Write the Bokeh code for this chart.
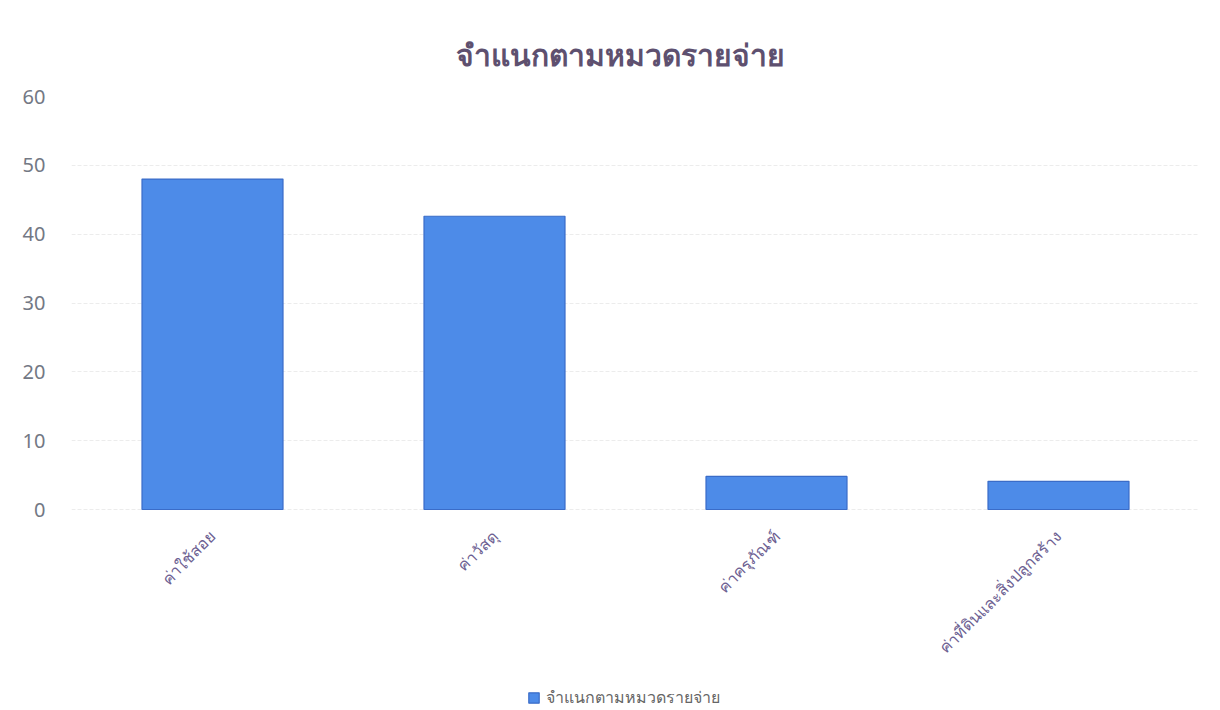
import math
from bokeh.plotting import figure
from bokeh.models import ColumnDataSource, Legend, LegendItem, FactorRange, Range1d
from bokeh.core.properties import value
from bokeh.embed import file_html
from bokeh.resources import INLINE

# data
categories = ["ค่าใช้สอย", "ค่าวัสดุ", "ค่าครุภัณฑ์", "ค่าที่ดินและสิ่งปลูกสร้าง"]
values = [48.0, 42.6, 4.8, 4.1]
series_name = "จำแนกตามหมวดรายจ่าย"
title_text = "จำแนกตามหมวดรายจ่าย"
y_ticks = [0, 10, 20, 30, 40, 50, 60]

FONT = "Noto Sans"

src = ColumnDataSource(dict(cat=categories, val=values, base=[0] * len(categories)))

p = figure(
    x_range=FactorRange(*categories, range_padding=0),
    y_range=Range1d(-29.2, 60),
    width=1212, height=710,
    output_backend="svg", toolbar_location=None,
    x_axis_location=None,
    min_border_left=71, min_border_right=13,
    min_border_top=96, min_border_bottom=0,
)
p.background_fill_color = "white"
p.border_fill_color = "white"
p.outline_line_color = None

p.title.text = title_text
p.title.align = "left"
p.title.offset = 384
p.title.text_font = FONT
p.title.text_font_size = "30px"
p.title.text_font_style = "bold"
p.title.text_color = "#5e506f"
p.title.standoff = 44

r = p.vbar(x="cat", top="val", width=0.5, source=src,
           fill_color="#4d8be8", line_color="#3a6cc8", line_width=1.2)

# category labels drawn under the bars, rotated like the reference
p.text(x="cat", y="base", text="cat", source=src, angle=math.pi / 4,
       text_align="right", text_baseline="middle", y_offset=24, x_offset=0,
       text_font=value(FONT), text_font_size="16px", text_color="#6d5f92")

p.yaxis.ticker = y_ticks
p.yaxis.axis_line_color = None
p.yaxis.major_tick_line_color = None
p.yaxis.minor_tick_line_color = None
p.yaxis.major_label_text_font = FONT
p.yaxis.major_label_text_font_size = "20px"
p.yaxis.major_label_text_color = "#737884"
p.yaxis.major_label_standoff = 20

p.xgrid.grid_line_color = None
p.ygrid.ticker = y_ticks
p.ygrid.grid_line_color = "#ececec"
p.ygrid.grid_line_dash = "4 2"

legend = Legend(items=[LegendItem(label=series_name, renderers=[r])],
                location=(456, 0), orientation="horizontal",
                border_line_color=None, background_fill_alpha=0,
                label_text_font=FONT, label_text_font_size="16px",
                label_text_color="#666666", glyph_width=13, glyph_height=13,
                padding=1, spacing=4, margin=0, label_standoff=6)
p.add_layout(legend, "center")

open("out.html", "w").write(file_html(p, INLINE))
